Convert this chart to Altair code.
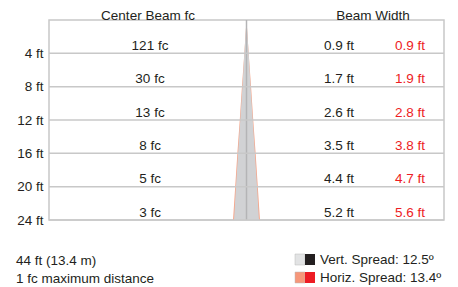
import altair as alt
import pandas as pd

depths = [4, 8, 12, 16, 20, 24]
center_fc = [121, 30, 13, 8, 5, 3]
vert_width = [0.9, 1.7, 2.6, 3.5, 4.4, 5.2]
horiz_width = [0.9, 1.9, 2.8, 3.8, 4.7, 5.6]

max_distance = "44 ft (13.4 m)"
max_note = "1 fc maximum distance"
vert_label = "Vert. Spread: 12.5º"
horiz_label = "Horiz. Spread: 13.4º"

FONT = "Liberation Sans"
FS = 13.5
TXT = "#231f20"
RED = "#ed1c24"
GRID = "#c8c8c8"
W, H = 395, 200
D = 41.1

rows = pd.DataFrame({
    "depth": depths,
    "fc": [f"{v} fc" for v in center_fc],
    "vw": [f"{v} ft" for v in vert_width],
    "hw": [f"{v} ft" for v in horiz_width],
})

cone = pd.DataFrame({
    "depth": [0] + depths,
    "vh": [0] + [v / 2 for v in vert_width],
    "hh": [0] + [v / 2 for v in horiz_width],
})
cone["vl"] = -cone["vh"]
cone["hl"] = -cone["hh"]

xs = alt.Scale(domain=[-D, D])
ys = alt.Scale(domain=[0, 24], reverse=True)
yaxis = alt.Axis(values=depths, labelExpr="datum.value + ' ft'", title=None,
                 grid=False, ticks=False, domain=False, labelFont=FONT,
                 labelFontSize=FS, labelColor=TXT, labelPadding=6,
                 minExtent=35, maxExtent=35)

def Y():
    return alt.Y("depth:Q", scale=ys, axis=yaxis)

horiz_area = alt.Chart(cone).mark_area(orient="horizontal", color="#f6a488").encode(
    y=Y(), x=alt.X("hl:Q", scale=xs, axis=None), x2="hh:Q",
)
vert_area = alt.Chart(cone).mark_area(orient="horizontal", color="#d1d2d4").encode(
    y=Y(), x=alt.X("vl:Q", scale=xs, axis=None), x2="vh:Q",
)
center_line = alt.Chart(pd.DataFrame({"x": [0]})).mark_rule(color="#b4b4b6", strokeWidth=1.5).encode(
    x=alt.X("x:Q", scale=xs, axis=None)
)
grid = alt.Chart(rows).mark_rule(color=GRID, strokeWidth=1.5).encode(y=Y())

def col_text(field, xpos, color):
    return alt.Chart(rows).mark_text(font=FONT, fontSize=FS, color=color, dy=-3.5,
                                     align="center", baseline="alphabetic").encode(
        y=Y(), x=alt.value(xpos), text=f"{field}:N",
    )

fc_text = col_text("fc", 101, TXT)
vw_text = col_text("vw", 290, TXT)
hw_text = col_text("hw", 361, RED)

titles = pd.DataFrame({"t": ["Center Beam fc", "Beam Width"], "px": [99, 324]})
title_text = alt.Chart(titles).mark_text(font=FONT, fontSize=FS, color=TXT, align="center",
                                         baseline="alphabetic").encode(
    x=alt.X("px:Q", scale=None), y=alt.value(-0.5), text="t:N"
)

notes = pd.DataFrame({"t": [max_distance, max_note], "py": [244.5, 263]})
note_text = alt.Chart(notes).mark_text(font=FONT, fontSize=FS, color=TXT, align="left",
                                       baseline="alphabetic").encode(
    x=alt.value(-33), y=alt.Y("py:Q", scale=None), text="t:N"
)

leg = pd.DataFrame({"t": [vert_label, horiz_label], "py": [244, 262],
                    "c1": ["#e2e3e4", "#f6977a"], "c2": ["#231f20", RED]})
leg_text = alt.Chart(leg).mark_text(font=FONT, fontSize=FS, color=TXT, align="left",
                                    baseline="alphabetic").encode(
    x=alt.value(271), y=alt.Y("py:Q", scale=None), text="t:N"
)
sw1 = alt.Chart(leg).mark_rect(stroke="#bbbbbb", strokeWidth=0.5).transform_calculate(
    ya="datum.py - 10", yb="datum.py + 1").encode(
    x=alt.value(246), x2=alt.value(256),
    y=alt.Y("ya:Q", scale=None), y2="yb:Q",
    color=alt.Color("c1:N", scale=None),
)
sw2 = alt.Chart(leg).mark_rect().transform_calculate(
    ya="datum.py - 10", yb="datum.py + 1").encode(
    x=alt.value(256), x2=alt.value(266),
    y=alt.Y("ya:Q", scale=None), y2="yb:Q",
    color=alt.Color("c2:N", scale=None),
)

chart = alt.layer(
    horiz_area, vert_area, center_line, grid, fc_text, vw_text, hw_text,
    title_text, note_text, leg_text, sw1, sw2
).properties(
    width=W, height=H,
    autosize=alt.AutoSizeParams(type="none"),
    padding={"left": 41, "top": 12, "right": 6, "bottom": 67},
).configure_view(stroke=GRID, strokeWidth=1.5)

chart.save("out.html", embed_options={"renderer": "svg", "actions": False})
